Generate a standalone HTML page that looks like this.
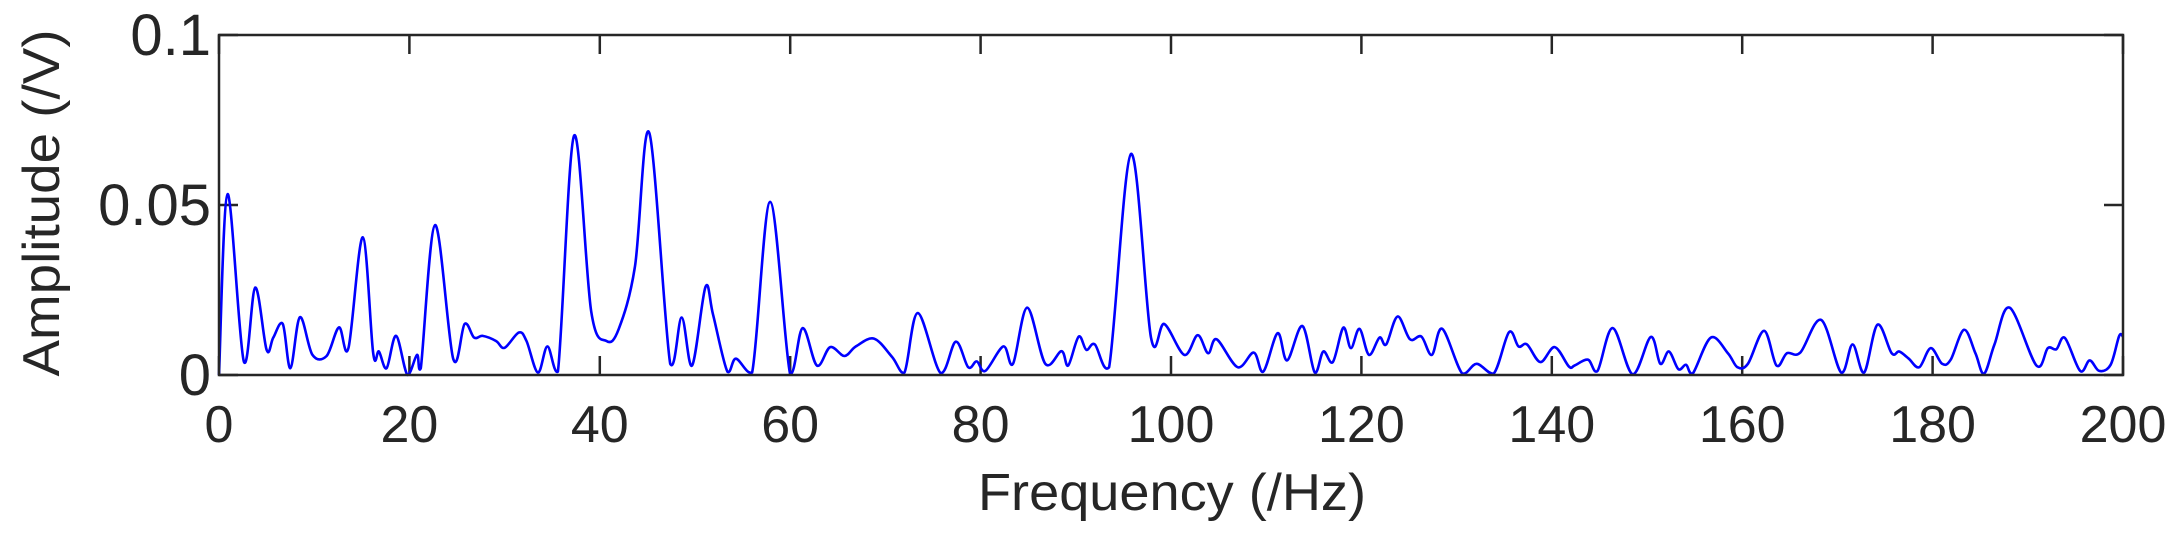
<!DOCTYPE html>
<html><head><meta charset="utf-8"><style>
html,body{margin:0;padding:0;background:#fff;}
svg{display:block;font-family:"Liberation Sans",Arial,sans-serif;}
</style></head><body>
<svg id="chart" width="2184" height="545" viewBox="0 0 2184 545" xmlns="http://www.w3.org/2000/svg">
<rect x="0" y="0" width="2184" height="545" fill="#fff"/>
<g id="ticks"></g>
<g id="labels"></g>
<path id="series" fill="none" stroke="#0000ff" stroke-width="2.6" stroke-linejoin="round"/>
<rect x="219" y="35" width="1904" height="340" fill="none" stroke="#262626" stroke-width="2.5"/>
<text x="1172" y="510" font-size="52" fill="#262626" text-anchor="middle" textLength="388" lengthAdjust="spacingAndGlyphs">Frequency (/Hz)</text>
<text transform="translate(59,203) rotate(-90)" font-size="52" fill="#262626" text-anchor="middle" textLength="347" lengthAdjust="spacingAndGlyphs">Amplitude (/V)</text>
</svg>
<script>
const freqs = [0,0.9,2.6,3.8,5.0,5.7,6.7,7.5,8.5,9.8,11.3,12.6,13.6,15.1,16.2,16.8,17.6,18.6,19.8,20.8,21.2,22.7,24.6,25.8,26.8,27.7,29.1,30.0,31.5,32.3,33.5,34.5,35.6,37.3,39.1,40.7,42.0,43.7,45.2,47.4,48.6,49.7,51.1,51.9,53.4,54.3,56.0,57.9,60.0,61.3,62.8,64.2,65.7,66.9,68.8,70.7,72.0,73.4,75.8,77.4,78.7,79.6,80.5,82.4,83.4,84.9,86.8,88.5,89.2,90.3,91.1,92.0,93.5,95.8,97.9,99.3,101.4,102.8,103.9,104.8,107.0,108.7,109.7,111.2,112.2,113.8,115.1,116.0,117.0,118.1,118.9,119.8,120.8,121.9,122.6,123.8,125.1,126.3,127.4,128.5,130.6,132.1,133.9,135.5,136.5,137.4,138.8,140.3,141.8,142.4,143.8,144.8,146.4,148.5,150.4,151.4,152.3,153.3,154.1,154.8,156.7,158.5,159.5,160.6,162.3,163.6,164.7,166.1,168.3,170.4,171.6,172.8,174.2,175.7,176.5,177.5,178.6,179.8,181.0,181.9,183.3,184.5,185.4,186.5,188.1,190.9,192.1,193.0,193.9,195.5,196.5,197.5,198.7,199.6,200];
const amps = [0,0.0532,0.004,0.0257,0.0074,0.011,0.015,0.002,0.017,0.006,0.0056,0.014,0.008,0.0405,0.0064,0.0069,0.002,0.0115,0,0.0059,0.002,0.0441,0.0048,0.015,0.011,0.0115,0.010,0.008,0.0125,0.010,0.0007,0.0084,0.001,0.0704,0.0187,0.010,0.0136,0.032,0.0712,0.0033,0.0169,0.0028,0.0259,0.0177,0.001,0.0048,0.0007,0.0509,0.0002,0.0138,0.0028,0.0082,0.0056,0.0084,0.0107,0.0053,0.0007,0.0182,0.0006,0.0098,0.0023,0.004,0.0012,0.0084,0.0033,0.0198,0.0033,0.007,0.0028,0.0113,0.0074,0.009,0.0023,0.065,0.011,0.015,0.0059,0.0117,0.0064,0.0105,0.0023,0.0066,0.001,0.0123,0.0043,0.0144,0.0007,0.0069,0.0038,0.0139,0.0079,0.0136,0.0059,0.011,0.009,0.0172,0.0105,0.0113,0.0059,0.0136,0.0004,0.0033,0.0004,0.0126,0.0084,0.009,0.0038,0.0082,0.0025,0.0028,0.0045,0.0012,0.0138,0.0002,0.0112,0.0033,0.0069,0.0017,0.003,0.0004,0.011,0.0064,0.0023,0.0033,0.013,0.0028,0.0064,0.0066,0.0162,0.0007,0.009,0.0007,0.0148,0.0064,0.0069,0.0048,0.0023,0.0079,0.0033,0.0045,0.0133,0.0064,0.0004,0.009,0.0198,0.0028,0.0079,0.0076,0.0109,0.0012,0.0043,0.0012,0.003,0.0115,0.0112];
const xTicks = [0,20,40,60,80,100,120,140,160,180,200];
const yTicks = [0,0.05,0.1];
const yTickLabels = ["0","0.05","0.1"];

const X0=219,X1=2123,Y0=375,Y1=35;
function xs(f){return X0+(f-0)/(200-0)*(X1-X0);}
function ys(a){return Y0-(a-0)/(0.1-0)*(Y0-Y1);}
const NS="http://www.w3.org/2000/svg";

const pts=freqs.map((f,i)=>[xs(f),ys(amps[i])]);
let d="M"+pts[0][0].toFixed(1)+","+pts[0][1].toFixed(1);
for(let i=0;i<pts.length-1;i++){
  const p0=pts[Math.max(0,i-1)],p1=pts[i],p2=pts[i+1],p3=pts[Math.min(pts.length-1,i+2)];
  const t=0.5/3;
  const c1x=p1[0]+(p2[0]-p0[0])*t, c1y=Math.min(Y0,p1[1]+(p2[1]-p0[1])*t);
  const c2x=p2[0]-(p3[0]-p1[0])*t, c2y=Math.min(Y0,p2[1]-(p3[1]-p1[1])*t);
  d+=" C"+c1x.toFixed(1)+","+c1y.toFixed(1)+" "+c2x.toFixed(1)+","+c2y.toFixed(1)+" "+p2[0].toFixed(1)+","+p2[1].toFixed(1);
}
document.getElementById('series').setAttribute('d',d);

const tg=document.getElementById('ticks'), lg=document.getElementById('labels');
xTicks.forEach(v=>{
  const x=xs(v);
  [[Y0,Y0-19],[Y1,Y1+19]].forEach(([a,b])=>{
    const l=document.createElementNS(NS,'line');
    l.setAttribute('x1',x);l.setAttribute('x2',x);l.setAttribute('y1',a);l.setAttribute('y2',b);
    l.setAttribute('stroke','#262626');l.setAttribute('stroke-width','2.5');
    
    
    tg.appendChild(l);
  });
  const t=document.createElementNS(NS,'text');
  t.setAttribute('x',x);t.setAttribute('y',442);t.setAttribute('text-anchor','middle');
  t.setAttribute('font-size','52');t.setAttribute('fill','#262626');
  t.textContent=String(v);
  
  
  lg.appendChild(t);
});
yTicks.forEach((v,i)=>{
  const y=ys(v);
  [[X0,X0+19],[X1,X1-19]].forEach(([a,b])=>{
    const l=document.createElementNS(NS,'line');
    l.setAttribute('x1',a);l.setAttribute('x2',b);l.setAttribute('y1',y);l.setAttribute('y2',y);
    l.setAttribute('stroke','#262626');l.setAttribute('stroke-width','2.5');
    
    
    tg.appendChild(l);
  });
  const t=document.createElementNS(NS,'text');
  t.setAttribute('x',211);t.setAttribute('y',y+20);t.setAttribute('text-anchor','end');
  t.setAttribute('font-size','58');t.setAttribute('fill','#262626');
  t.textContent=yTickLabels[i];
  
  
  lg.appendChild(t);
});
</script>
</body></html>
